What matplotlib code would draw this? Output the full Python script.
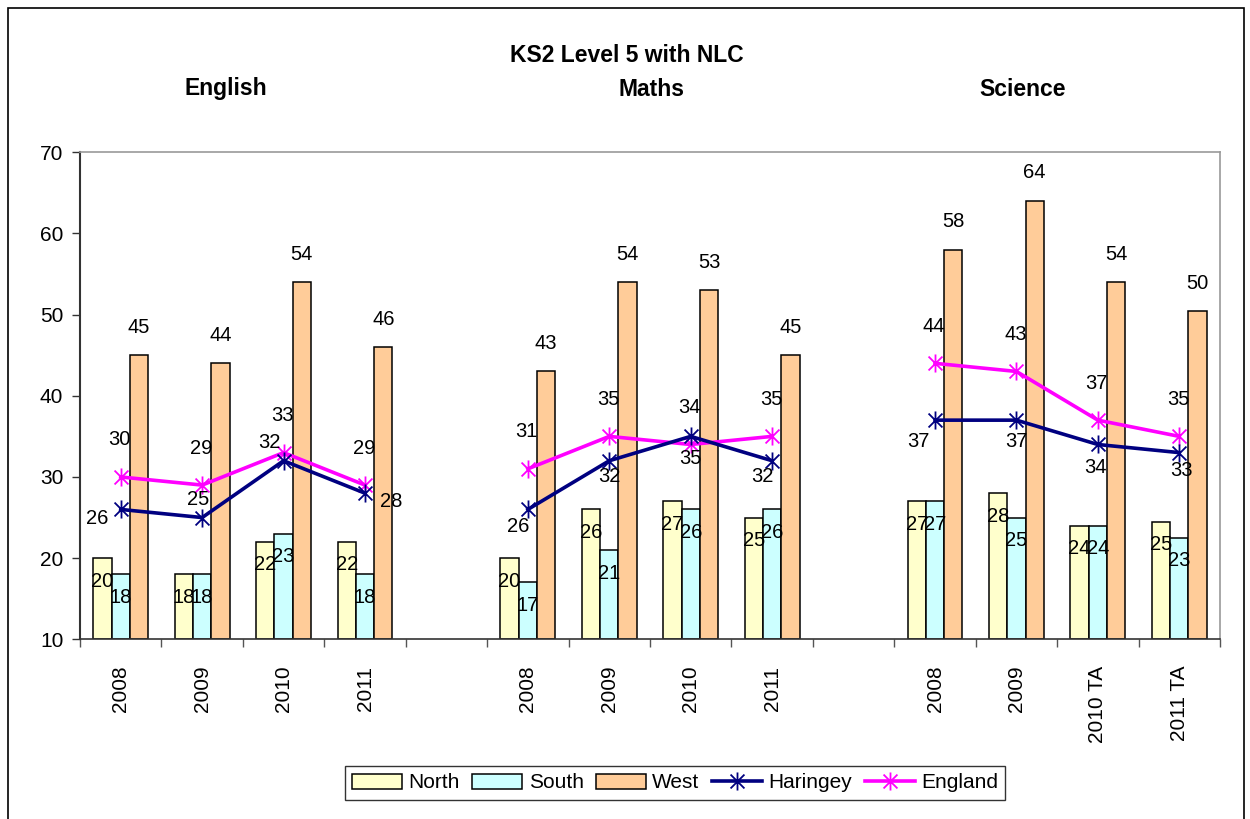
import matplotlib
matplotlib.use('Agg')
import matplotlib.pyplot as plt
from matplotlib.path import Path
from matplotlib.patches import Rectangle
import numpy as np

plt.rcParams['font.family'] = ['Liberation Sans', 'DejaVu Sans']

# --- data ---
subjects = ['English', 'Maths', 'Science']
years = [['2008', '2009', '2010', '2011'],
         ['2008', '2009', '2010', '2011'],
         ['2008', '2009', '2010 TA', '2011 TA']]
north = [20, 18, 22, 22, 20, 26, 27, 25, 27, 28, 24, 24.5]
south = [18, 18, 23, 18, 17, 21, 26, 26, 27, 25, 24, 22.5]
west = [45, 44, 54, 46, 43, 54, 53, 45, 58, 64, 54, 50.4]
haringey = [26, 25, 32, 28, 26, 32, 35, 32, 37, 37, 34, 33]
england = [30, 29, 33, 29, 31, 35, 34, 35, 44, 43, 37, 35]

# label placement for Haringey (pixels, dx, dy downwards)
har_off = [(-24, 9), (-4, -18), (-14, -18), (26, 8),
           (-10, 17), (0, 16), (0, 22), (-10, 16),
           (-17, 21), (0, 21), (-2, 23), (2, 18)]

# slot positions: 4 categories per subject, one empty slot between subjects
xpos = np.array([g * 5 + i for g in range(3) for i in range(4)])
labels = [y for grp in years for y in grp]

fig = plt.figure(figsize=(12.5, 8.19), dpi=100)
ax = fig.add_axes([80 / 1250, 1 - 639.3 / 819, 1140 / 1250, (639.3 - 152.3) / 819])

w = 0.225
c_north, c_south, c_west = '#FFFFCC', '#CCFFFF', '#FFCC99'
c_har, c_eng = '#000080', '#FF00FF'

ax.bar(xpos - w, np.array(north) - 10, w, bottom=10, color=c_north, edgecolor='black', lw=1.1, label='North', zorder=2)
ax.bar(xpos, np.array(south) - 10, w, bottom=10, color=c_south, edgecolor='black', lw=1.1, label='South', zorder=2)
ax.bar(xpos + w, np.array(west) - 10, w, bottom=10, color=c_west, edgecolor='black', lw=1.1, label='West', zorder=2)

star = Path([(-1, -1), (1, 1), (-1, 1), (1, -1), (0, -1.3), (0, 1.3)],
            [Path.MOVETO, Path.LINETO, Path.MOVETO, Path.LINETO, Path.MOVETO, Path.LINETO])

for g in range(3):
    sl = slice(g * 4, g * 4 + 4)
    ax.plot(xpos[sl], haringey[sl], color=c_har, lw=2.6, marker=star, ms=13,
            mew=1.3, label='Haringey' if g == 0 else None, zorder=4)
    ax.plot(xpos[sl], england[sl], color=c_eng, lw=2.6, marker=star, ms=13,
            mew=1.3, label='England' if g == 0 else None, zorder=3)

def fmt(v):
    return str(int(np.floor(v + 0.5)))

fs = 14.5
for i, x in enumerate(xpos):
    ax.annotate(fmt(north[i]), (x - w, north[i]), xytext=(0, -23), textcoords='offset pixels',
                ha='center', va='center', fontsize=fs, zorder=5)
    ax.annotate(fmt(south[i]), (x, south[i]), xytext=(0, -23), textcoords='offset pixels',
                ha='center', va='center', fontsize=fs, zorder=5)
    ax.annotate(fmt(west[i]), (x + w, west[i]), xytext=(0, 28), textcoords='offset pixels',
                ha='center', va='center', fontsize=fs, zorder=5)
    ax.annotate(fmt(england[i]), (x, england[i]), xytext=(-1, 37), textcoords='offset pixels',
                ha='center', va='center', fontsize=fs, zorder=5)
    dx, dy = har_off[i]
    ax.annotate(fmt(haringey[i]), (x, haringey[i]), xytext=(dx, -dy), textcoords='offset pixels',
                ha='center', va='center', fontsize=fs, zorder=5)

ax.set_xlim(-0.5, 13.5)
ax.set_ylim(10, 70)
ax.set_yticks(range(10, 71, 10))
ax.set_xticks(xpos)
ax.set_xticklabels(labels, rotation=90, va='top', ha='center')
ax.set_xticks(np.arange(-0.5, 14, 1), minor=True)
ax.tick_params(axis='x', which='major', length=0, pad=19, labelsize=15)
ax.tick_params(axis='x', which='minor', length=6, color='#555555', width=1)
ax.tick_params(axis='y', length=6, width=1, color='#333333', labelsize=15, pad=6)

for s in ['top', 'right']:
    ax.spines[s].set_color('#999999')
    ax.spines[s].set_linewidth(1.2)
ax.spines['left'].set_color('#333333')
ax.spines['left'].set_linewidth(1.5)
ax.spines['bottom'].set_color('#333333')
ax.spines['bottom'].set_linewidth(1.2)

# titles
fig.text(627 / 1250, 1 - 56 / 819, 'KS2 Level 5 with NLC', ha='center', va='center', fontsize=16.5, fontweight='bold')
for name, xc in zip(subjects, [226, 652, 1023]):
    fig.text(xc / 1250, 1 - 89 / 819, name, ha='center', va='center', fontsize=16.5, fontweight='bold')

handles, names = ax.get_legend_handles_labels()
order = [names.index(n) for n in ['North', 'South', 'West', 'Haringey', 'England']]
leg = fig.legend([handles[k] for k in order], [names[k] for k in order],
                 loc='center', bbox_to_anchor=(675 / 1250, 1 - 783 / 819), ncol=5, frameon=True,
                 fancybox=False, edgecolor='black', fontsize=15, handlelength=2.4, handletextpad=0.3,
                 columnspacing=0.6, borderpad=0.35)
leg.get_frame().set_linewidth(1.0)

# outer chart border
fig.patches.append(Rectangle((8 / 1250, -0.01), 1236 / 1250, 1 - 8 / 819 + 0.01, transform=fig.transFigure,
                             fill=False, edgecolor='black', lw=1.2))

fig.savefig('out.png', dpi=100)
